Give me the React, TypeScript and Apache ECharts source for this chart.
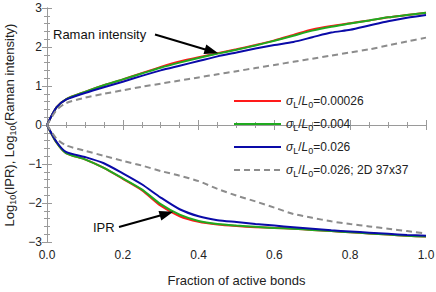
import React, { useEffect, useRef } from "react";
import * as echarts from "echarts";

const fractions = [0, 0.025, 0.05, 0.1, 0.15, 0.2, 0.25, 0.3, 0.35, 0.4, 0.45, 0.5, 0.55, 0.6, 0.65, 0.7, 0.75, 0.8, 0.85, 0.9, 0.95, 1.0];

const ramanRed = [0, 0.45, 0.66, 0.85, 1.02, 1.17, 1.33, 1.49, 1.63, 1.74, 1.84, 1.94, 2.05, 2.17, 2.31, 2.45, 2.54, 2.61, 2.68, 2.76, 2.82, 2.88];
const ramanGreen = [0, 0.45, 0.66, 0.85, 1.02, 1.17, 1.32, 1.47, 1.6, 1.72, 1.83, 1.93, 2.04, 2.16, 2.29, 2.42, 2.52, 2.6, 2.68, 2.76, 2.82, 2.88];
const ramanBlue = [0, 0.45, 0.65, 0.82, 0.97, 1.11, 1.26, 1.4, 1.52, 1.64, 1.76, 1.86, 1.96, 2.05, 2.13, 2.25, 2.37, 2.44, 2.55, 2.66, 2.75, 2.82];
const ramanGray = [0, 0.38, 0.56, 0.7, 0.8, 0.89, 0.98, 1.06, 1.14, 1.22, 1.3, 1.38, 1.46, 1.54, 1.62, 1.7, 1.78, 1.86, 1.94, 2.04, 2.14, 2.24];

const iprRed = [0, -0.45, -0.72, -0.88, -1.1, -1.38, -1.67, -2.07, -2.34, -2.48, -2.55, -2.59, -2.62, -2.64, -2.66, -2.69, -2.72, -2.75, -2.78, -2.81, -2.84, -2.86];
const iprGreen = [0, -0.45, -0.72, -0.88, -1.1, -1.37, -1.65, -2.03, -2.3, -2.46, -2.54, -2.58, -2.61, -2.64, -2.66, -2.69, -2.72, -2.75, -2.78, -2.81, -2.84, -2.86];
const iprBlue = [0, -0.43, -0.69, -0.82, -0.98, -1.24, -1.52, -1.86, -2.16, -2.34, -2.44, -2.49, -2.54, -2.58, -2.62, -2.66, -2.7, -2.73, -2.76, -2.79, -2.82, -2.84];
const iprGray = [0, -0.35, -0.52, -0.66, -0.79, -0.92, -1.04, -1.18, -1.3, -1.44, -1.64, -1.81, -1.96, -2.12, -2.28, -2.38, -2.47, -2.54, -2.6, -2.66, -2.72, -2.78];

const legendSuffixes = ["0.00026", "0.004", "0.026", "0.026; 2D 37x37"];
const seriesColors = ["#ff1a1a", "#1faa1f", "#0a0aa8", "#8c8c8c"];
const xTicks = [0, 0.2, 0.4, 0.6, 0.8, 1.0];

const names = legendSuffixes.map((s) => "σL/L0=" + s);

function pairs(vals: number[]) {
  return fractions.map((f, i) => [f, vals[i]]);
}

export default function App() {
  const ref = useRef<HTMLDivElement>(null);
  useEffect(() => {
    if (!ref.current) return;
    const chart = echarts.init(ref.current, undefined, { renderer: "svg" });
    const upper = [ramanRed, ramanGreen, ramanBlue, ramanGray];
    const lower = [iprRed, iprGreen, iprBlue, iprGray];
    const series: any[] = [];
    for (let k = 0; k < 4; k++) {
      const lineStyle: any = { color: seriesColors[k], width: 2 };
      if (k === 3) lineStyle.type = [6, 4];
      [upper[k], lower[k]].forEach((vals) => {
        series.push({
          type: "line",
          name: names[k],
          data: pairs(vals),
          symbol: "none",
          smooth: 0.25,
          lineStyle,
          itemStyle: { color: seriesColors[k] },
          z: 2 + k,
        });
      });
    }
    const axisLineStyle = { color: "#9a9a9a", width: 1 };
    const font = "Liberation Sans, Arial, sans-serif";
    chart.setOption({
      animation: false,
      textStyle: { fontFamily: font },
      grid: { left: 47, right: 10, top: 8, bottom: 50, outerBoundsMode: "none", containLabel: false },
      xAxis: [
        {
          type: "value",
          min: 0,
          max: 1,
          interval: 0.2,
          name: "Fraction of active bonds",
          nameLocation: "middle",
          nameGap: 32,
          nameTextStyle: { fontSize: 13, color: "#222", fontFamily: font },
          axisLine: { show: true, lineStyle: axisLineStyle },
          axisTick: { show: true, inside: true, length: 5, lineStyle: axisLineStyle },
          minorTick: { show: true, splitNumber: 4, length: 3, lineStyle: axisLineStyle },
          splitLine: { show: false },
          axisLabel: {
            fontSize: 12,
            color: "#222",
            margin: 7,
            fontFamily: font,
            formatter: (v: number) => (xTicks.some((t) => Math.abs(t - v) < 1e-9) ? v.toFixed(1) : ""),
          },
        },
        {
          type: "value",
          min: 0,
          max: 1,
          interval: 0.2,
          position: "top",
          axisLine: { show: true, lineStyle: axisLineStyle },
          axisTick: { show: true, inside: true, length: 5, lineStyle: axisLineStyle },
          minorTick: { show: true, splitNumber: 4, length: 3, lineStyle: axisLineStyle },
          splitLine: { show: false },
          axisLabel: { show: false },
        },
      ],
      yAxis: [
        {
          type: "value",
          min: -3,
          max: 3,
          interval: 1,
          name: "Log{s|10}(IPR), Log{s|10}(Raman intensity)",
          nameLocation: "middle",
          nameGap: 27,
          nameRotate: 90,
          nameTextStyle: {
            fontSize: 13,
            color: "#222",
            fontFamily: font,
            lineHeight: 16,
            rich: { s: { fontSize: 9, lineHeight: 10, verticalAlign: "bottom", fontFamily: font, color: "#222" } },
          },
          axisLine: { show: true, lineStyle: axisLineStyle },
          axisTick: { show: true, inside: true, length: 5, lineStyle: axisLineStyle },
          minorTick: { show: true, splitNumber: 5, length: 3, lineStyle: axisLineStyle },
          splitLine: { show: false },
          axisLabel: {
            fontSize: 12,
            color: "#222",
            margin: 5,
            fontFamily: font,
            formatter: (v: number) => (v < 0 ? "\u2212" + Math.abs(v) : String(v)),
          },
        },
        {
          type: "value",
          min: -3,
          max: 3,
          interval: 1,
          position: "right",
          axisLine: { show: true, lineStyle: axisLineStyle },
          axisTick: { show: true, inside: true, length: 5, lineStyle: axisLineStyle },
          minorTick: { show: true, splitNumber: 5, length: 3, lineStyle: axisLineStyle },
          splitLine: { show: false },
          axisLabel: { show: false },
        },
      ],
      legend: {
        data: names,
        orient: "vertical",
        left: 233,
        top: 93,
        itemWidth: 47,
        itemHeight: 14,
        itemGap: 7,
        padding: 0,
        itemStyle: { opacity: 0 },
        textStyle: {
          fontSize: 12,
          color: "#222",
          fontFamily: font,
          lineHeight: 16,
          rich: {
            i: { fontStyle: "italic", fontSize: 12, lineHeight: 16, color: "#222", fontFamily: font },
            s: { fontSize: 9, lineHeight: 10, verticalAlign: "bottom", color: "#222", fontFamily: font },
            n: { fontSize: 12, lineHeight: 16, color: "#222", fontFamily: font },
          },
        },
        formatter: (name: string) => {
          const suffix = name.replace("σL/L0=", "");
          return "{i|σ}{s|L}{n|/}{i|L}{s|0}{n|=" + suffix + "}";
        },
      },
      graphic: [
        {
          type: "text",
          left: 53,
          top: 28,
          style: { text: "Raman intensity", fill: "#111", font: "13px Liberation Sans, Arial, sans-serif" },
          z: 10,
        },
        {
          type: "line",
          shape: { x1: 155, y1: 34.5, x2: 207, y2: 50 },
          style: { stroke: "#000", lineWidth: 2 },
          z: 10,
        },
        {
          type: "polygon",
          shape: { points: [[218.3, 53.3], [203.5, 54.1], [206.3, 44.5]] },
          style: { fill: "#000" },
          z: 10,
        },
        {
          type: "text",
          left: 93,
          top: 221,
          style: { text: "IPR", fill: "#111", font: "13px Liberation Sans, Arial, sans-serif" },
          z: 10,
        },
        {
          type: "line",
          shape: { x1: 119, y1: 227, x2: 162, y2: 215 },
          style: { stroke: "#000", lineWidth: 2 },
          z: 10,
        },
        {
          type: "polygon",
          shape: { points: [[173.3, 211.7], [161.3, 220.5], [158.5, 210.9]] },
          style: { fill: "#000" },
          z: 10,
        },
      ],
      series,
    });
    return () => chart.dispose();
  }, []);
  return <div ref={ref} style={{ width: 436, height: 292, position: "absolute", left: 0, top: 0 }} />;
}
